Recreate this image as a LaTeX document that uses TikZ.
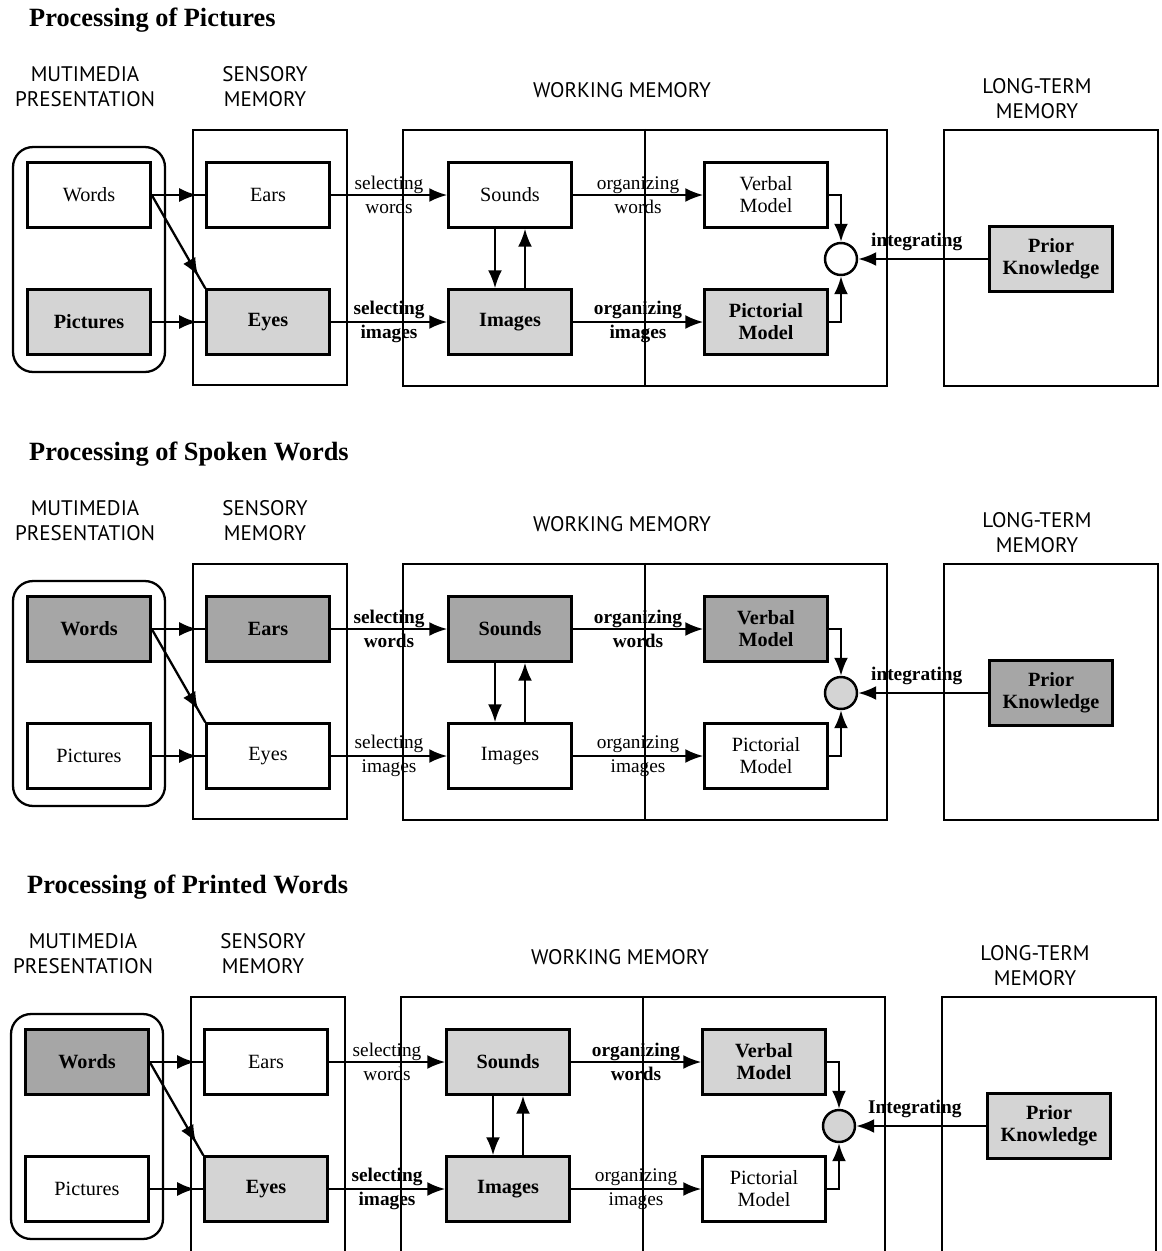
\documentclass[tikz,border=0pt]{standalone}
\usepackage{fontspec}
\setmainfont{Liberation Serif}
\newfontfamily\headfont{PT Sans}
\usetikzlibrary{arrows.meta,calc}

\tikzset{
  box/.style={draw, line width=1.4pt, minimum width=2.46cm, minimum height=1.3cm, inner sep=0pt, align=center, font=\fontsize{11.5}{12.5}\selectfont},
  frame/.style={draw, line width=1.3pt, inner sep=0pt},
  circ/.style={circle, draw, line width=1.4pt, minimum size=0.64cm, inner sep=0pt},
  lbl/.style={align=center, inner sep=0pt, font=\fontsize{11}{13.5}\selectfont},
  head/.style={align=center, font=\headfont\fontsize{12}{14.2}\selectfont},
  title/.style={font=\fontsize{15}{18}\selectfont\bfseries},
  arr/.style={-{Latex[length=3.6mm,width=2.8mm]}},
  conn/.style={line width=1.3pt},
  lite/.style={fill=black!17},
  dark/.style={fill=black!35},
  hl/.style={execute at begin node=\bfseries},
  % per panel looks, set in each scope
  wordsbox/.style={}, picsbox/.style={}, earsbox/.style={}, eyesbox/.style={},
  soundsbox/.style={}, imgbox/.style={}, verbbox/.style={}, pictbox/.style={},
  priorbox/.style={}, intcirc/.style={},
  selw/.style={}, seli/.style={}, orgw/.style={}, orgi/.style={}, integ/.style={}
}

% one panel of the model: #1 title, #2 integrating label
\newcommand\mmpanel[2]{%
  \node[title, anchor=west] (ttl) at (23,20) {#1};
  \node[head] (hmm) at (85,87) {MUTIMEDIA\\PRESENTATION};
  \node[head] (hsens) at (265,87) {SENSORY\\MEMORY};
  \node[head] (hwork) at (622,90) {WORKING MEMORY};
  \node[head] (hlong) at (1037,99) {LONG-TERM\\MEMORY};
  % stores
  \node[frame, rounded corners=0.4cm, minimum width=3.04cm, minimum height=4.5cm] (mm) at (89,259.5) {};
  \node[frame, minimum width=3.08cm, minimum height=5.1cm] (sens) at (270,257.5) {};
  \node[frame, minimum width=9.68cm, minimum height=5.12cm] (work) at (645,258) {};
  \node[frame, minimum width=4.28cm, minimum height=5.12cm] (long) at (1051,258) {};
  \draw[conn] (work.north) -- (work.south);
  % boxes
  \node[box, wordsbox] (words) at (89,195) {Words};
  \node[box, picsbox] (pics) at (89,322) {Pictures};
  \node[box, earsbox] (ears) at (268,195) {Ears};
  \node[box, eyesbox] (eyes) at (268,322) {Eyes};
  \node[box, soundsbox] (sounds) at (510,195) {Sounds};
  \node[box, imgbox] (images) at (510,322) {Images};
  \node[box, verbbox] (verbal) at (766,195) {Verbal\\Model};
  \node[box, pictbox] (pictorial) at (766,322) {Pictorial\\Model};
  \node[box, priorbox] (prior) at (1051,259) {Prior\\Knowledge};
  \node[circ, intcirc] (merge) at (841,259) {};
  % arrows
  \draw[conn,arr] (words) -- ([xshift=3pt]words -| sens.west);
  \draw[conn] (words -| sens.west) -- (ears);
  \draw[conn,arr] (pics) -- ([xshift=3pt]pics -| sens.west);
  \draw[conn] (pics -| sens.west) -- (eyes);
  \draw[conn,arr] (words.east) -- ($(words.east)!0.87!(eyes.north west)$);
  \draw[conn] ($(words.east)!0.8!(eyes.north west)$) -- (eyes.north west);
  \draw[conn,arr] (ears) -- node[lbl, selw] {selecting\\words} (sounds);
  \draw[conn,arr] (eyes) -- node[lbl, seli] {selecting\\images} (images);
  \draw[conn,arr] (sounds) -- node[lbl, orgw] {organizing\\words} (verbal);
  \draw[conn,arr] (images) -- node[lbl, orgi] {organizing\\images} (pictorial);
  \draw[conn,arr] ([xshift=-0.3cm]sounds.south) -- ([xshift=-0.3cm]images.north);
  \draw[conn,arr] ([xshift=0.3cm]images.north) -- ([xshift=0.3cm]sounds.south);
  \draw[conn,arr] (verbal) -| (merge);
  \draw[conn,arr] (pictorial) -| (merge);
  \draw[conn,arr] (prior) -- node[lbl, integ, above=4pt, pos=0.55] {#2} (merge);
}

\begin{document}
\begin{tikzpicture}[x=0.02cm, y=-0.02cm]
\useasboundingbox (0,0) rectangle (1161,1251);

\begin{scope}[picsbox/.style={lite,hl}, eyesbox/.style={lite,hl}, imgbox/.style={lite,hl},
  pictbox/.style={lite,hl}, priorbox/.style={lite,hl},
  seli/.style={hl}, orgi/.style={hl}, integ/.style={hl}]
  \mmpanel{Processing of Pictures}{integrating}
\end{scope}

\begin{scope}[shift={(0,434)}, wordsbox/.style={dark,hl}, earsbox/.style={dark,hl},
  soundsbox/.style={dark,hl}, verbbox/.style={dark,hl}, priorbox/.style={dark,hl},
  intcirc/.style={lite}, selw/.style={hl}, orgw/.style={hl}, integ/.style={hl}]
  \mmpanel{Processing of Spoken Words}{integrating}
\end{scope}

\begin{scope}[shift={(-2,867)}, wordsbox/.style={dark,hl}, eyesbox/.style={lite,hl},
  soundsbox/.style={lite,hl}, imgbox/.style={lite,hl}, verbbox/.style={lite,hl},
  priorbox/.style={lite,hl}, intcirc/.style={lite},
  seli/.style={hl}, orgw/.style={hl}, integ/.style={hl}]
  \mmpanel{Processing of Printed Words}{Integrating}
\end{scope}

\end{tikzpicture}
\end{document}
